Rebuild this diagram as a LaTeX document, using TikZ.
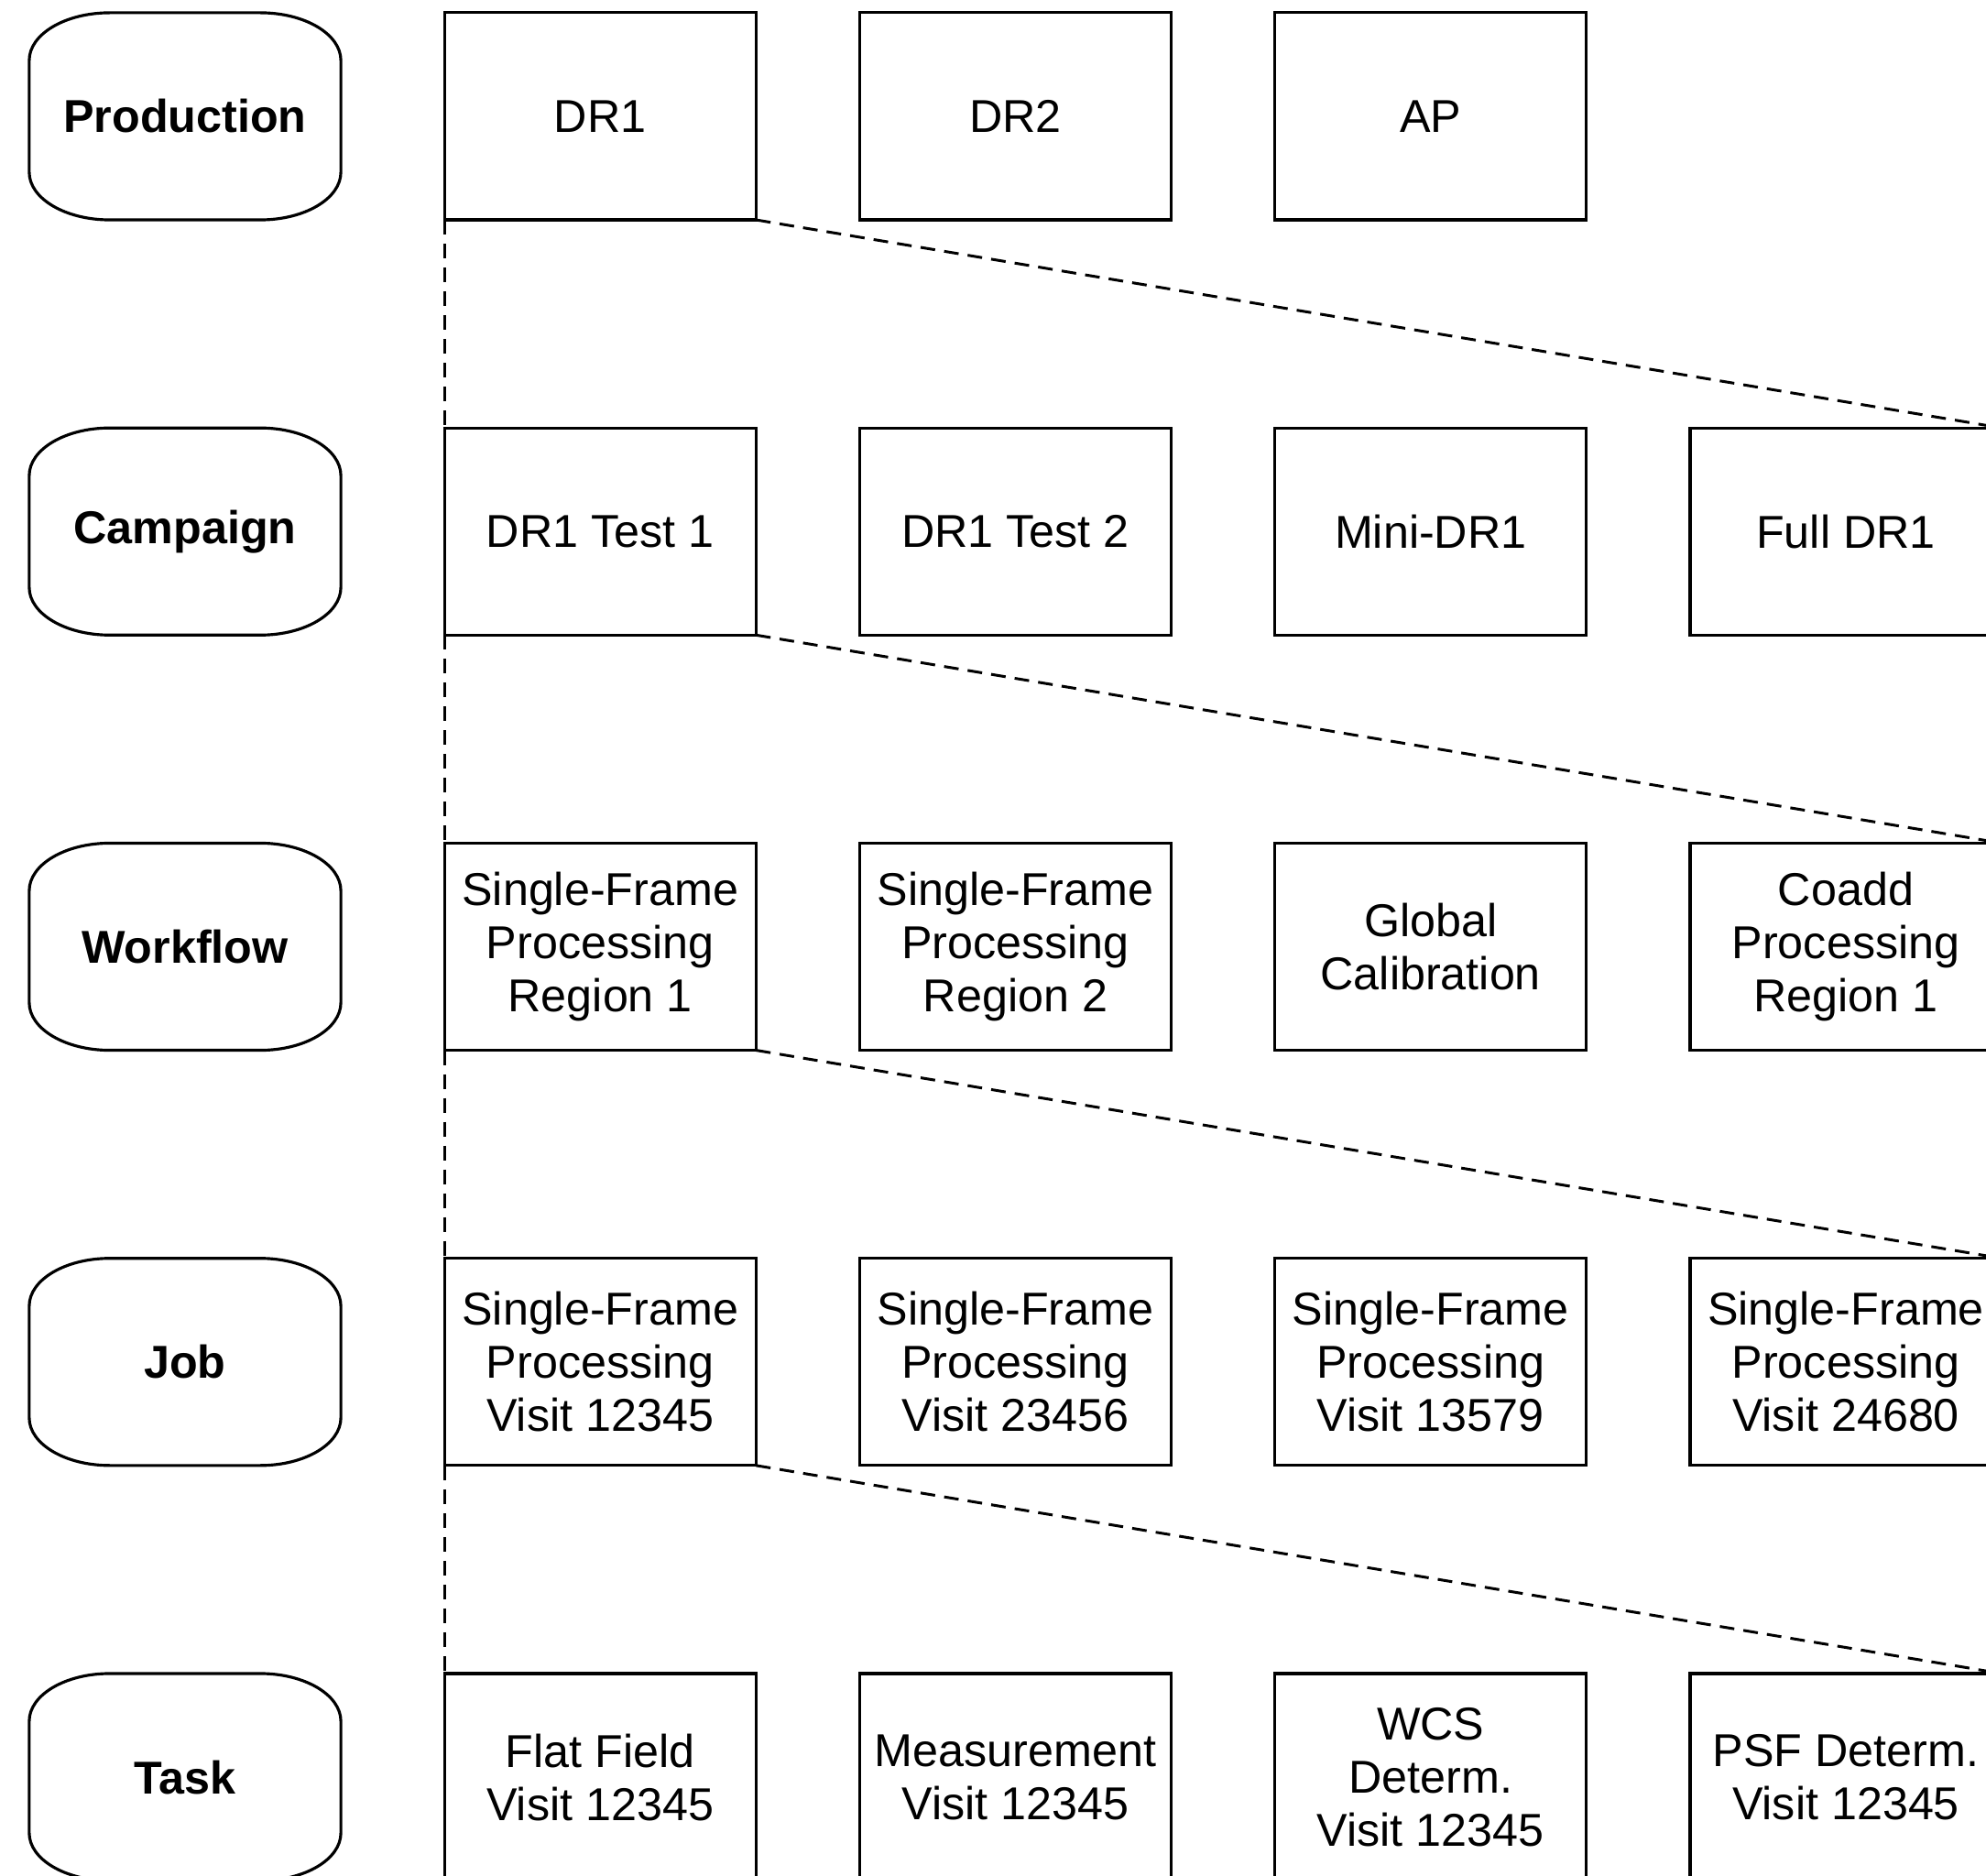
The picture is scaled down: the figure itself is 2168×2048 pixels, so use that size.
\documentclass[tikz,border=0pt]{standalone}
\usepackage{fontspec}
\setmainfont{Liberation Sans}
\usetikzlibrary{positioning}

\begin{document}
\begin{tikzpicture}[x=0.01cm, y=0.01cm, node distance=2.27cm and 1.13cm, auto]
	\tikzset{
		mynode/.style={rectangle, draw=black, line width=0.9pt, minimum width=3.4cm, minimum height=2.26cm, inner sep=0pt, outer sep=0pt, align=center, font=\fontsize{14.3}{16.5}\selectfont},
		mylevel/.style={mynode, draw=none, font=\fontsize{14.3}{16.5}\selectfont\bfseries},
		myframe/.style={line width=0.9pt},
		mydash/.style={dash pattern=on 0.16cm off 0.1cm, line width=0.85pt}
	}
	\path[use as bounding box, fill=white] (0,0) rectangle (2168,2048);
	\clip (0,0) rectangle (2168,2048);

	\node[mylevel] (production) at (202,1921) {Production};
	\node[mylevel, below=of production] (campaign) {Campaign};
	\node[mylevel, below=of campaign] (workflow) {Workflow};
	\node[mylevel, below=of workflow] (job) {Job};
	\node[mylevel, below=of job] (task) {Task};

	\node[mynode, right=of production] (dr1) {DR1};
	\node[mynode, right=of dr1] (dr2) {DR2};
	\node[mynode, right=of dr2] (ap) {AP};

	\node[mynode, right=of campaign] (dr1Test1) {DR1 Test 1};
	\node[mynode, right=of dr1Test1] (dr1Test2) {DR1 Test 2};
	\node[mynode, right=of dr1Test2] (miniDr1) {Mini-DR1};
	\node[mynode, right=of miniDr1] (fullDr1) {Full DR1};

	\node[mynode, right=of workflow] (sfpRegion1) {Single-Frame\\Processing\\Region 1};
	\node[mynode, right=of sfpRegion1] (sfpRegion2) {Single-Frame\\Processing\\Region 2};
	\node[mynode, right=of sfpRegion2] (globalCal) {Global\\Calibration};
	\node[mynode, right=of globalCal] (coaddRegion1) {Coadd\\Processing\\Region 1};

	\node[mynode, right=of job] (sfpVisit12345) {Single-Frame\\Processing\\Visit 12345};
	\node[mynode, right=of sfpVisit12345] (sfpVisit23456) {Single-Frame\\Processing\\Visit 23456};
	\node[mynode, right=of sfpVisit23456] (sfpVisit13579) {Single-Frame\\Processing\\Visit 13579};
	\node[mynode, right=of sfpVisit13579] (sfpVisit24680) {Single-Frame\\Processing\\Visit 24680};

	\node[mynode, right=of task] (flatField) {Flat Field\\Visit 12345};
	\node[mynode, right=of flatField] (measurement) {Measurement\\Visit 12345};
	\node[mynode, right=of measurement] (wcsDeterm) {WCS\\Determ.\\Visit 12345};
	\node[mynode, right=of wcsDeterm] (psfDeterm) {PSF Determ.\\Visit 12345};

	% rounded frames of the level names
	\foreach \lv in {production, campaign, workflow, job, task}
		\draw[myframe] ([yshift=-0.52cm]\lv.north west) -- ([yshift=0.52cm]\lv.south west)
			arc[start angle=180, end angle=270, x radius=0.88cm, y radius=0.52cm]
			-- ([xshift=-0.88cm]\lv.south east)
			arc[start angle=270, end angle=360, x radius=0.88cm, y radius=0.52cm]
			-- ([yshift=-0.52cm]\lv.north east)
			arc[start angle=0, end angle=90, x radius=0.88cm, y radius=0.52cm]
			-- ([xshift=0.88cm]\lv.north west)
			arc[start angle=90, end angle=180, x radius=0.88cm, y radius=0.52cm] -- cycle;

	\draw[mydash] (dr1.south west) -- (dr1Test1.north west);
	\draw[mydash] (dr1.south east) -- (fullDr1.north east);
	\draw[mydash] (dr1Test1.south west) -- (sfpRegion1.north west);
	\draw[mydash] (dr1Test1.south east) -- (coaddRegion1.north east);
	\draw[mydash] (sfpRegion1.south west) -- (sfpVisit12345.north west);
	\draw[mydash] (sfpRegion1.south east) -- (sfpVisit24680.north east);
	\draw[mydash] (sfpVisit12345.south west) -- (flatField.north west);
	\draw[mydash] (sfpVisit12345.south east) -- (psfDeterm.north east);
\end{tikzpicture}
\end{document}
